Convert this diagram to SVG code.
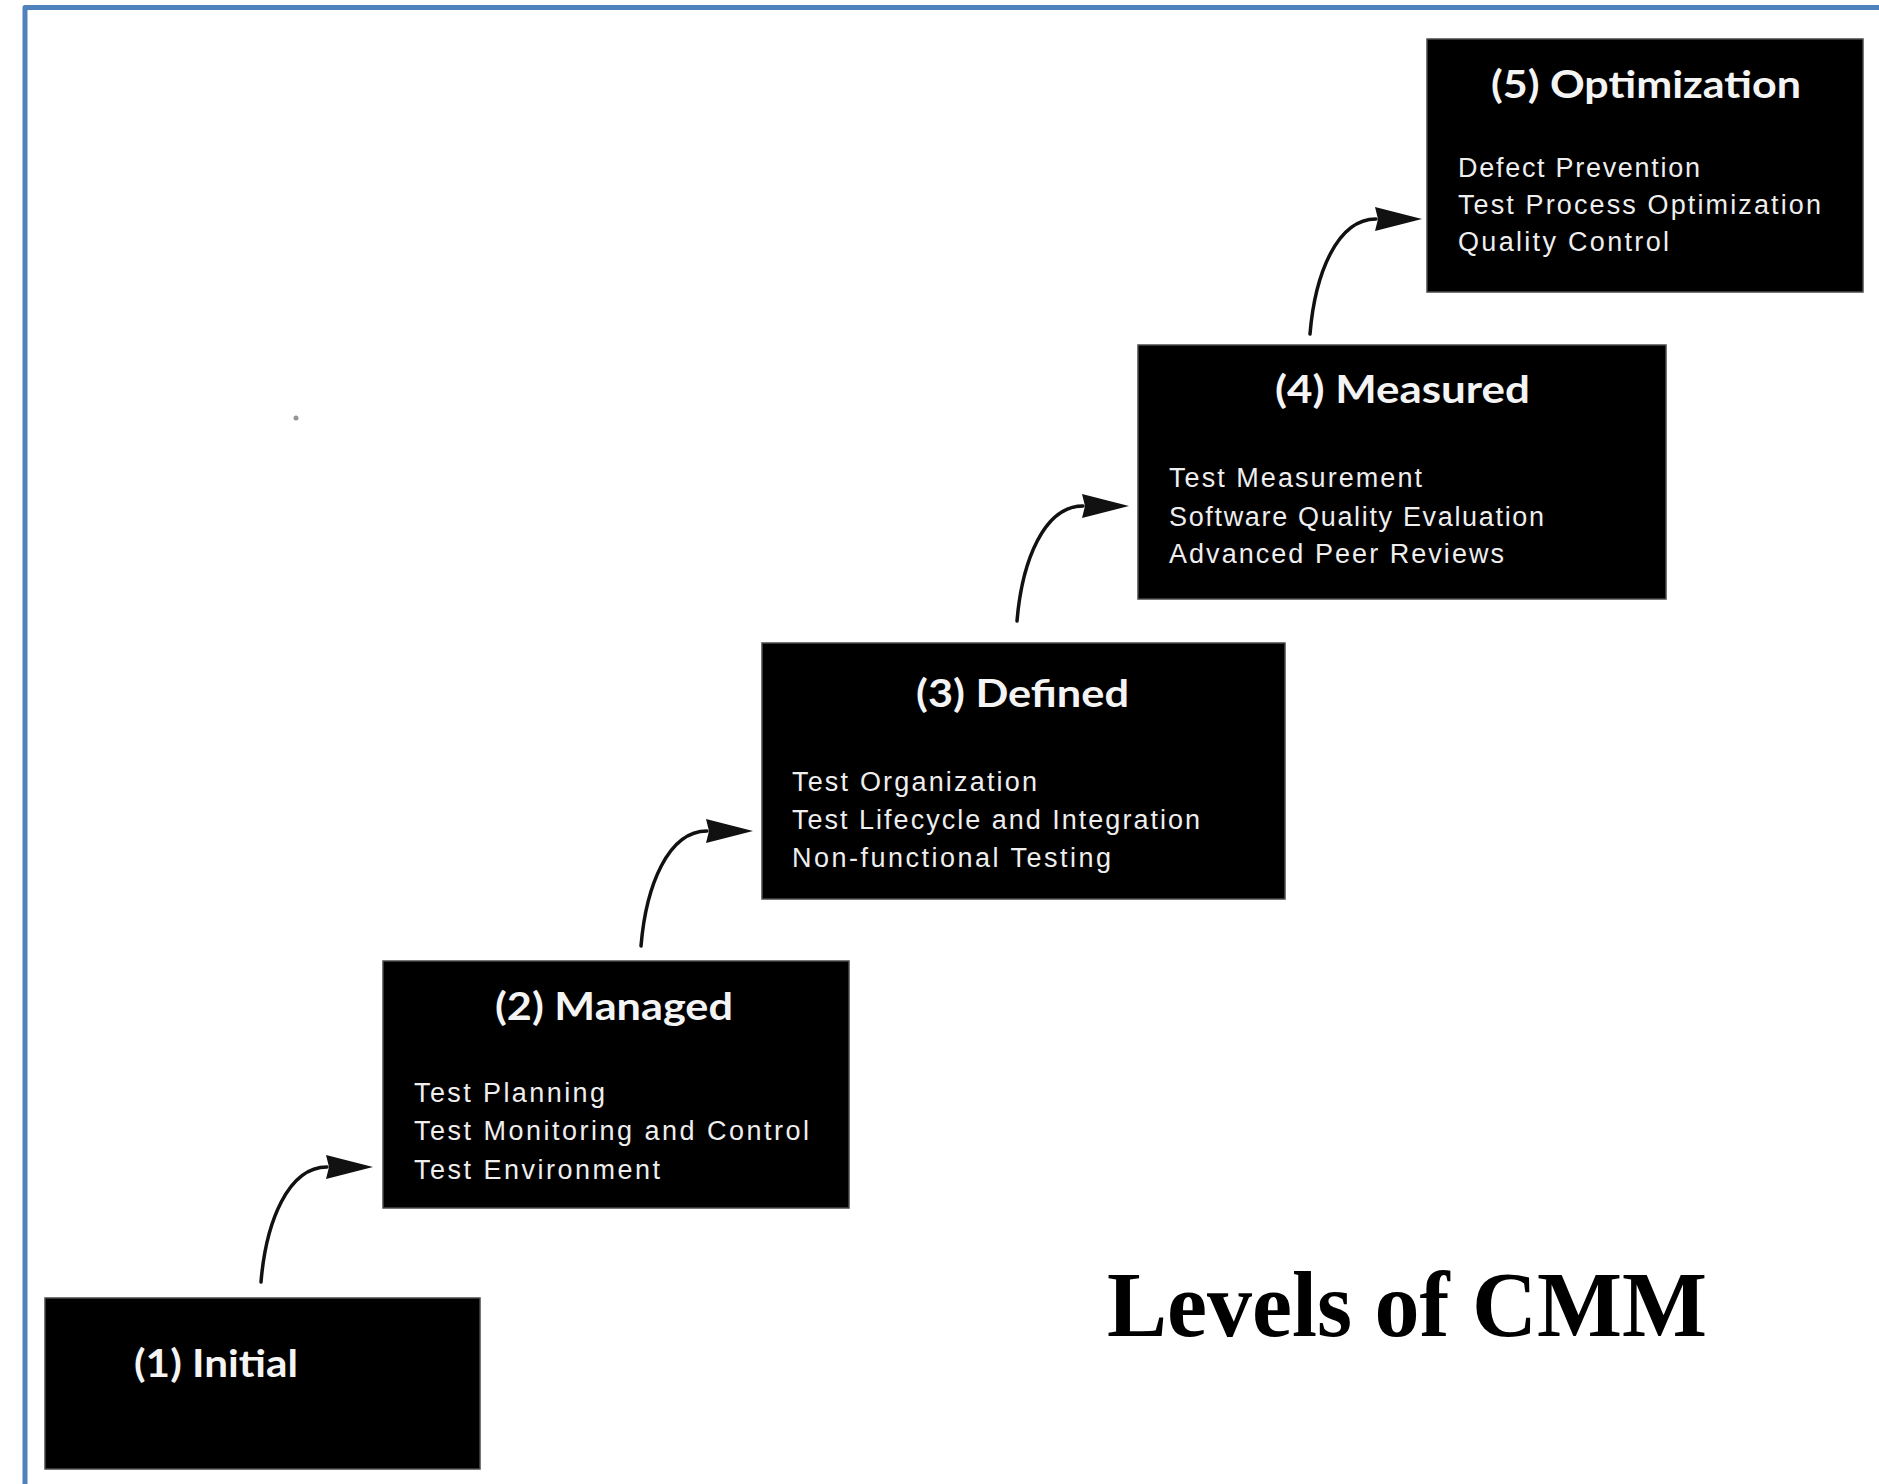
<svg xmlns="http://www.w3.org/2000/svg" width="1879" height="1484" viewBox="0 0 1879 1484">
  <style>
    .box { fill: #000; stroke: #4a4a4a; stroke-width: 1.5; }
    .title { font-family: Lato, "Open Sans", "Liberation Sans", sans-serif; font-weight: 700; font-size: 38px; fill: #f4f4f4; }
    .item { font-family: "Liberation Sans", Arial, sans-serif; font-size: 27px; fill: #eeeeee; }
    .conn { fill: none; stroke: #111; stroke-width: 3.5; stroke-linecap: round; }
    .heading { font-family: "Liberation Serif", "Times New Roman", serif; font-weight: 700; font-size: 94px; fill: #000; }
  </style>
  <defs>
    <marker id="arrow" markerUnits="userSpaceOnUse" markerWidth="48" markerHeight="26" viewBox="0 0 48 26" refX="1" refY="13" orient="auto">
      <path d="M0,1 L47,13 L0,25 L3,13 Z" fill="#111"/>
    </marker>
  </defs>

  <rect x="0" y="0" width="1879" height="1484" fill="#fff"/>
  <path d="M25,1484 L25,7.5 L1879,7.5" fill="none" stroke="#4f81bd" stroke-width="5" stroke-linejoin="round"/>
  <circle cx="296" cy="418" r="2.5" fill="#666" opacity="0.7"/>

  <g id="connectors">
    <path class="conn" marker-end="url(#arrow)" d="M261,1282 c5,-60 27,-115 66,-115"/>
    <path class="conn" marker-end="url(#arrow)" d="M641,946 c5,-60 27,-115 66,-115"/>
    <path class="conn" marker-end="url(#arrow)" d="M1017,621 c5,-60 27,-115 66,-115"/>
    <path class="conn" marker-end="url(#arrow)" d="M1310,334 c5,-60 27,-115 66,-115"/>
  </g>

  <g id="level1">
    <rect class="box" x="45" y="1298" width="435" height="171"/>
    <text class="title" x="134" y="1377" textLength="164" lengthAdjust="spacingAndGlyphs">(1) Initial</text>
  </g>

  <g id="level2">
    <rect class="box" x="383" y="961" width="466" height="247"/>
    <text class="title" x="495" y="1020" textLength="238" lengthAdjust="spacingAndGlyphs">(2) Managed</text>
    <text class="item" x="414" y="1102" textLength="191" lengthAdjust="spacing">Test Planning</text>
    <text class="item" x="414" y="1140" textLength="395" lengthAdjust="spacing">Test Monitoring and Control</text>
    <text class="item" x="414" y="1179" textLength="246" lengthAdjust="spacing">Test Environment</text>
  </g>

  <g id="level3">
    <rect class="box" x="762" y="643" width="523" height="256"/>
    <text class="title" x="916" y="707" textLength="213" lengthAdjust="spacingAndGlyphs">(3) Defined</text>
    <text class="item" x="792" y="791" textLength="245" lengthAdjust="spacing">Test Organization</text>
    <text class="item" x="792" y="829" textLength="408" lengthAdjust="spacing">Test Lifecycle and Integration</text>
    <text class="item" x="792" y="867" textLength="319" lengthAdjust="spacing">Non-functional Testing</text>
  </g>

  <g id="level4">
    <rect class="box" x="1138" y="345" width="528" height="254"/>
    <text class="title" x="1275" y="403" textLength="255" lengthAdjust="spacingAndGlyphs">(4) Measured</text>
    <text class="item" x="1169" y="487" textLength="253" lengthAdjust="spacing">Test Measurement</text>
    <text class="item" x="1169" y="526" textLength="375" lengthAdjust="spacing">Software Quality Evaluation</text>
    <text class="item" x="1169" y="563" textLength="335" lengthAdjust="spacing">Advanced Peer Reviews</text>
  </g>

  <g id="level5">
    <rect class="box" x="1427" y="39" width="436" height="253"/>
    <text class="title" x="1491" y="98" textLength="310" lengthAdjust="spacingAndGlyphs">(5) Optimization</text>
    <text class="item" x="1458" y="177" textLength="242" lengthAdjust="spacing">Defect Prevention</text>
    <text class="item" x="1458" y="214" textLength="363" lengthAdjust="spacing">Test Process Optimization</text>
    <text class="item" x="1458" y="251" textLength="211" lengthAdjust="spacing">Quality Control</text>
  </g>

  <g id="heading">
    <text class="heading" x="1107" y="1336" textLength="600" lengthAdjust="spacingAndGlyphs">Levels of CMM</text>
  </g>
</svg>
